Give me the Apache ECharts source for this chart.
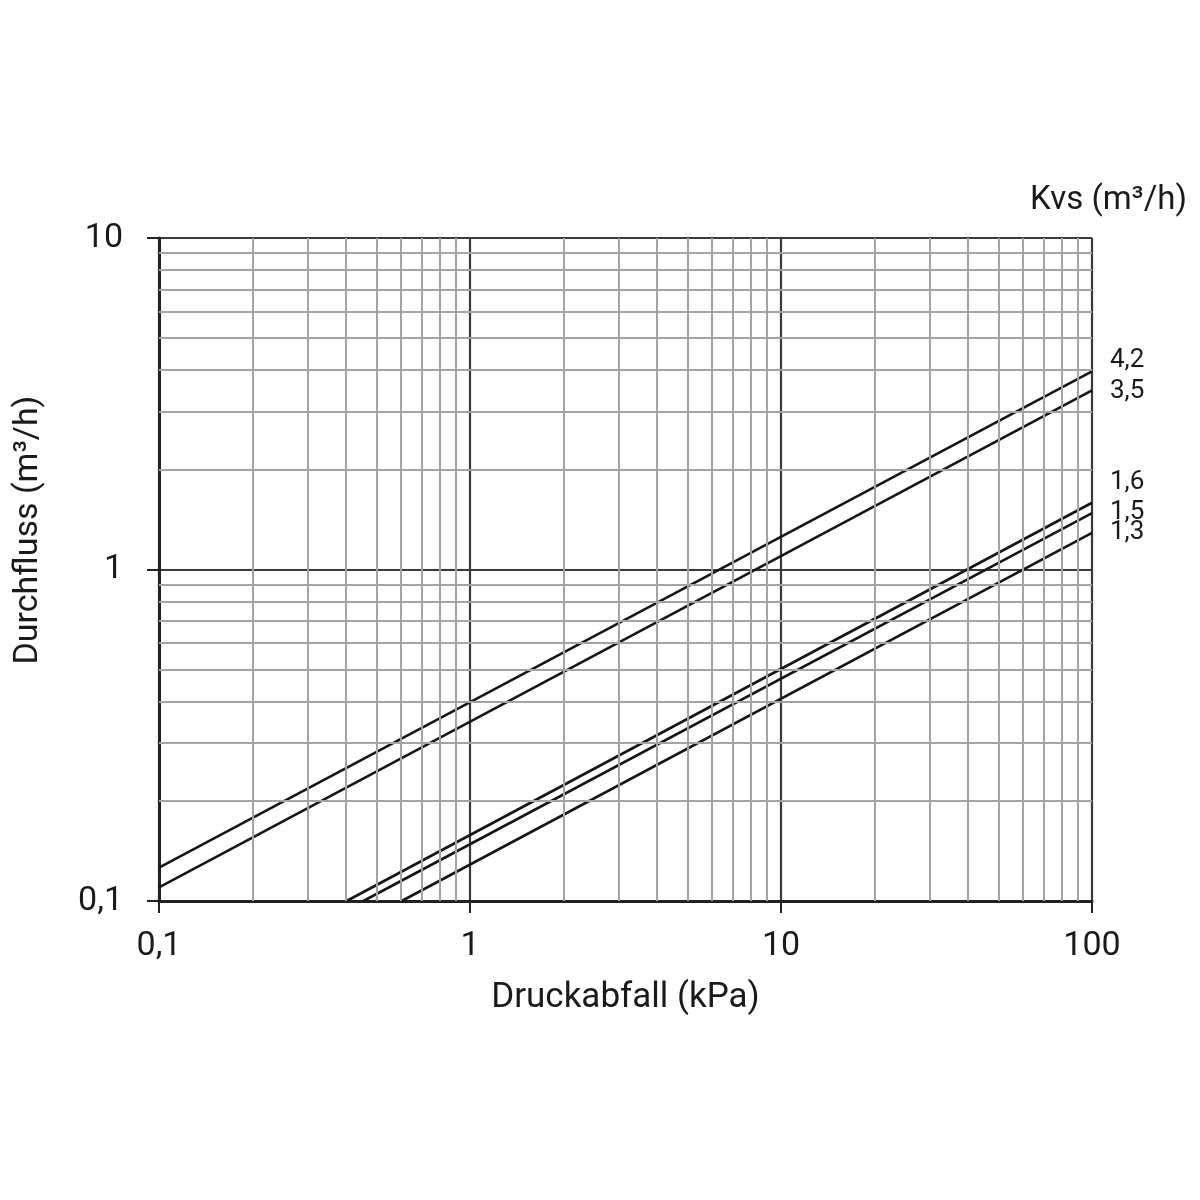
<!DOCTYPE html>
<html>
<head>
<meta charset="utf-8">
<script src="https://cdn.jsdelivr.net/npm/echarts@6/dist/echarts.min.js"></script>
<style>html,body{margin:0;padding:0;background:#fff;}#c{width:1200px;height:1200px;}</style>
</head>
<body>
<div id="c"></div>
<script>
// Kvs curves: [pressure drop kPa, flow m3/h] endpoints
var kvsNames = ['4,2', '3,5', '1,6', '1,5', '1,3'];
var s42 = [[0.1, 0.126], [100, 3.96]];
var s35 = [[0.1, 0.110], [100, 3.47]];
var s16 = [[0.401, 0.1], [100, 1.59]];
var s15 = [[0.454, 0.1], [100, 1.48]];
var s13 = [[0.603, 0.1], [100, 1.29]];
var seriesData = [s42, s35, s16, s15, s13];
var labelOffsets = [[10, -11], [10, 1], [10, -20], [10, -1], [10, 0]];

// minor gridline values
var xMinor = [0.2,0.3,0.4,0.5,0.6,0.7,0.8,0.9, 2,3,4,5,6,7,8,9, 20,30,40,50,60,70,80,90];
var yMinor = [0.2,0.3,0.4,0.5,0.6,0.7,0.8,0.9, 2,3,4,5,6,7,8,9];

var FONT = 'Roboto, "Noto Sans", sans-serif';
function fmt(v) { return String(Number(v.toPrecision(6))).replace('.', ','); }

var chart = echarts.init(document.getElementById('c'), null, {renderer: 'canvas'});

var series = [{
  type: 'line', data: [], z: 1, silent: true, animation: false,
  markLine: {
    silent: true, animation: false, symbol: ['none', 'none'],
    label: {show: false},
    lineStyle: {color: '#a3a3a3', width: 2, type: 'solid'},
    emphasis: {disabled: true},
    data: xMinor.map(function (v) { return {xAxis: v}; })
      .concat(yMinor.map(function (v) { return {yAxis: v}; }))
  }
}];
seriesData.forEach(function (d, i) {
  series.push({
    type: 'line', name: kvsNames[i], data: d, symbol: 'none', z: 3,
    animation: false, silent: true,
    lineStyle: {color: '#161616', width: 2.6},
    endLabel: {
      show: true, formatter: kvsNames[i], offset: labelOffsets[i],
      fontFamily: FONT, fontSize: 26, color: '#1a1a1a'
    }
  });
});

chart.setOption({
  backgroundColor: '#fff',
  animation: false,
  grid: {left: 159, right: 108, top: 238, bottom: 299, containLabel: false},
  xAxis: {
    type: 'log', logBase: 10, min: 0.1, max: 100,
    name: 'Druckabfall (kPa)', nameLocation: 'middle', nameGap: 80,
    nameTextStyle: {fontFamily: FONT, fontSize: 35, color: '#1a1a1a'},
    axisLine: {show: true, lineStyle: {color: '#222', width: 3}},
    axisTick: {show: true, inside: false, length: 12, lineStyle: {color: '#222', width: 2}},
    axisLabel: {fontFamily: FONT, fontSize: 34, color: '#1a1a1a', margin: 28, formatter: fmt},
    splitLine: {show: true, lineStyle: {color: '#3a3a3a', width: 2.2}},
    minorTick: {show: false}, minorSplitLine: {show: false}
  },
  yAxis: {
    type: 'log', logBase: 10, min: 0.1, max: 10,
    axisLine: {show: true, lineStyle: {color: '#222', width: 3}},
    axisTick: {show: true, inside: false, length: 12, lineStyle: {color: '#222', width: 2}},
    axisLabel: {fontFamily: FONT, fontSize: 34, color: '#1a1a1a', margin: 36, formatter: fmt},
    splitLine: {show: true, lineStyle: {color: '#3a3a3a', width: 2.2}},
    minorTick: {show: false}, minorSplitLine: {show: false}
  },
  graphic: [
    {type: 'text', x: 28, y: 530, rotation: Math.PI / 2,
     style: {text: 'Durchfluss (m³/h)', fontFamily: FONT, fontSize: 34, fill: '#1a1a1a',
             align: 'center', verticalAlign: 'middle'}},
    {type: 'text', x: 1187, y: 201,
     style: {text: 'Kvs (m³/h)', fontFamily: FONT, fontSize: 33, fill: '#1a1a1a',
             align: 'right', verticalAlign: 'middle'}}
  ],
  series: series
});
</script>
</body>
</html>
